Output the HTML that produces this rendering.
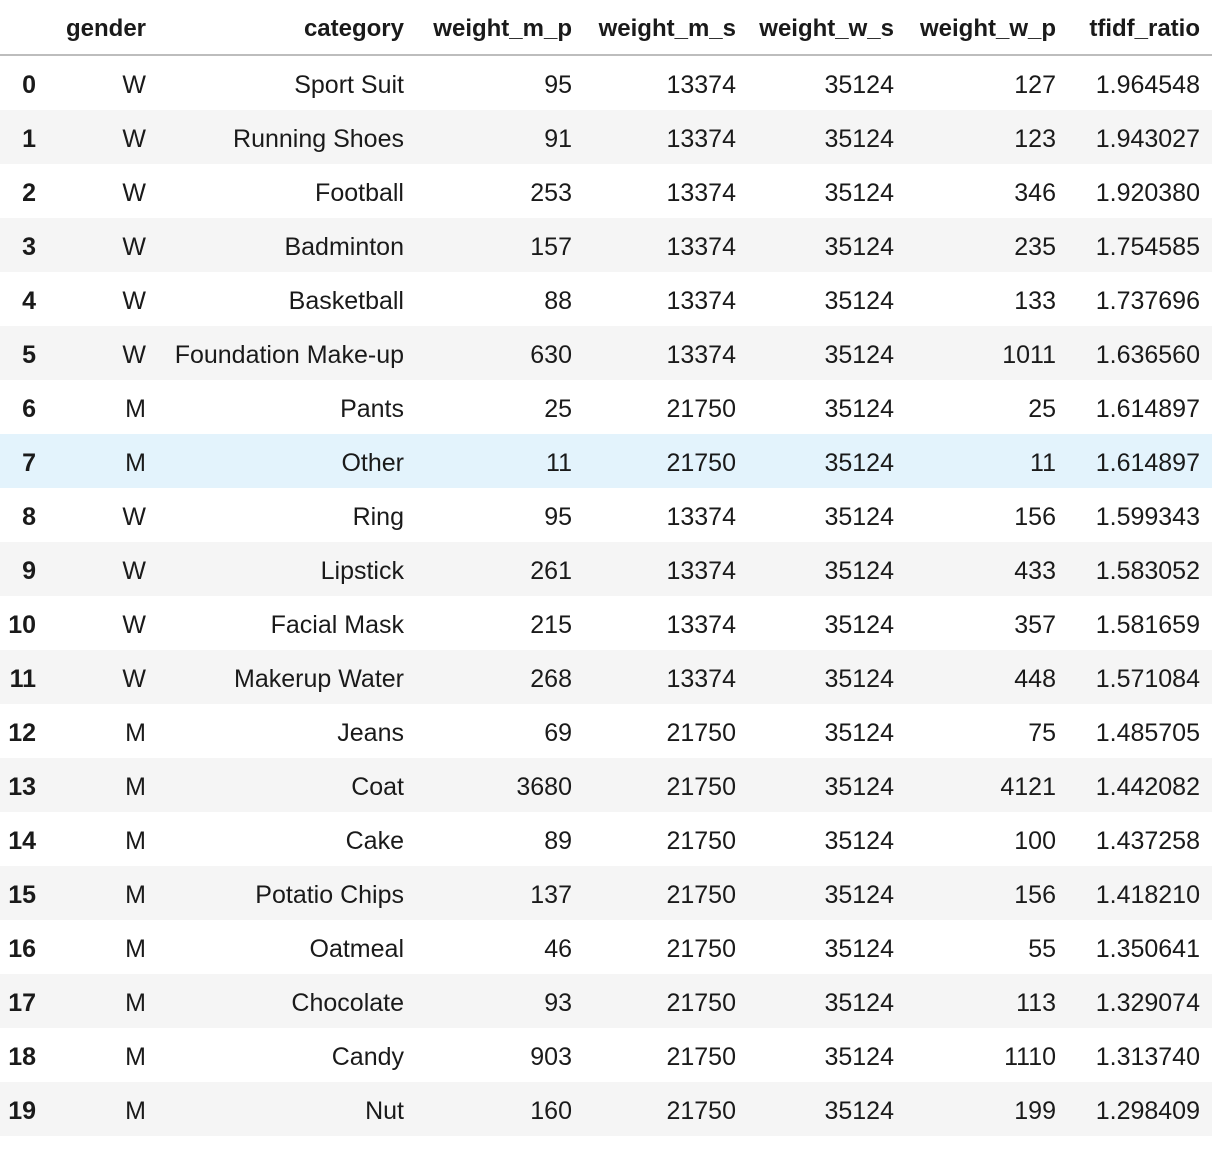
<!DOCTYPE html>
<html><head><meta charset="utf-8">
<style>
body{margin:0;width:1224px;height:1154px;background:#fff;position:relative;overflow:hidden;font-family:"Liberation Sans",sans-serif;color:#1a1a1a}
.c{position:absolute;white-space:nowrap;font-size:25px;line-height:58px;height:54px}
.h{font-weight:bold;font-size:24px}
.row{position:absolute;left:0;width:1212px;height:54px}
</style></head><body>
<div id="tbl"></div>
<script>
const columns=["gender","category","weight_m_p","weight_m_s","weight_w_s","weight_w_p","tfidf_ratio"];
const genders=["W","W","W","W","W","W","M","M","W","W","W","W","M","M","M","M","M","M","M","M"];
const categories=["Sport Suit","Running Shoes","Football","Badminton","Basketball","Foundation Make-up","Pants","Other","Ring","Lipstick","Facial Mask","Makerup Water","Jeans","Coat","Cake","Potatio Chips","Oatmeal","Chocolate","Candy","Nut"];
const weightMP=[95,91,253,157,88,630,25,11,95,261,215,268,69,3680,89,137,46,93,903,160];
const weightMS=[13374,13374,13374,13374,13374,13374,21750,21750,13374,13374,13374,13374,21750,21750,21750,21750,21750,21750,21750,21750];
const weightWS=[35124,35124,35124,35124,35124,35124,35124,35124,35124,35124,35124,35124,35124,35124,35124,35124,35124,35124,35124,35124];
const weightWP=[127,123,346,235,133,1011,25,11,156,433,357,448,75,4121,100,156,55,113,1110,199];
const tfidf=["1.964548","1.943027","1.920380","1.754585","1.737696","1.636560","1.614897","1.614897","1.599343","1.583052","1.581659","1.571084","1.485705","1.442082","1.437258","1.418210","1.350641","1.329074","1.313740","1.298409"];
const rightEdges=[146,404,572,736,894,1056,1200];
const tbl=document.getElementById('tbl');
function cell(txt,right,top,cls,name){
  const d=document.createElement('div');
  d.className='c '+(cls||'');
  d.style.right=(1224-right)+'px';d.style.top=top+'px';
  d.textContent=txt;
  
  
  tbl.appendChild(d);return d;
}
columns.forEach((c,i)=>{
  const d=cell(c,rightEdges[i],0,'h','header-'+c);
  d.style.lineHeight='58px';
});
const line=document.createElement('div');
line.style.cssText='position:absolute;left:0;top:54px;width:1212px;height:2px;background:#bdbdbd';


tbl.appendChild(line);
for(let r=0;r<genders.length;r++){
  const top=56+54*r;
  const row=document.createElement('div');
  row.className='row';row.style.top=top+'px';
  row.style.background=r===7?'#e3f3fc':(r%2?'#f5f5f5':'#fff');
  
  
  tbl.appendChild(row);
  const idx=cell(String(r),36,top,'h','row-index');
  idx.style.fontSize='25px';
  const vals=[genders[r],categories[r],weightMP[r],weightMS[r],weightWS[r],weightWP[r],tfidf[r]];
  vals.forEach((v,i)=>cell(String(v),rightEdges[i],top,'','cell-'+columns[i]));
}
</script>
</body></html>
